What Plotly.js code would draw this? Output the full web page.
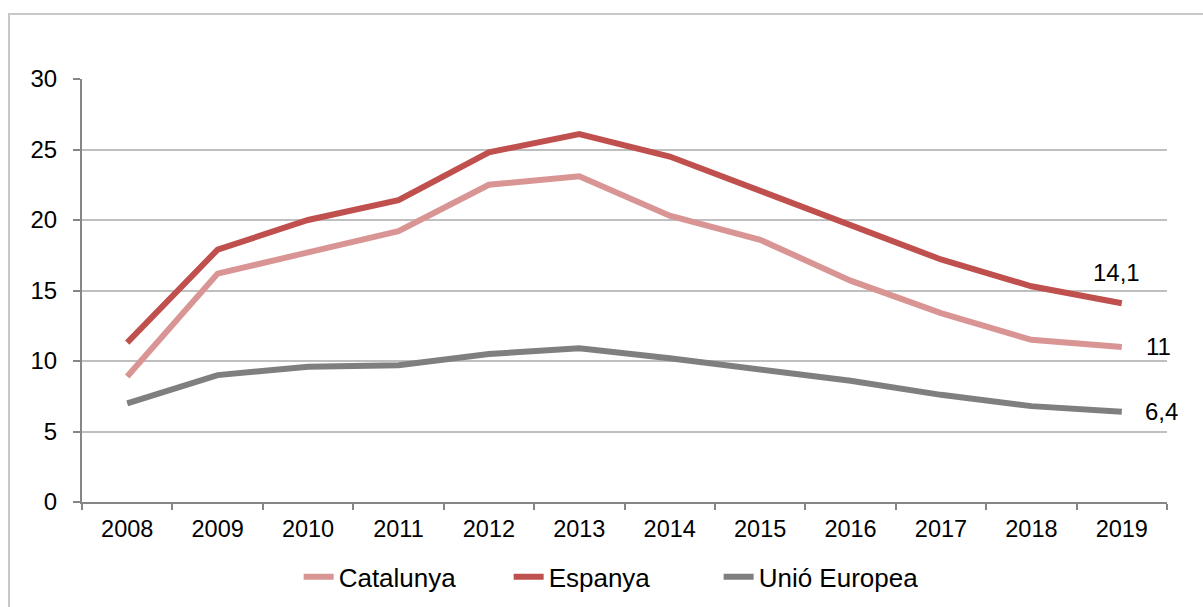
<!DOCTYPE html>
<html>
<head>
<meta charset="utf-8">
<script src="https://cdn.plot.ly/plotly-3.0.1.min.js"></script>
<style>
html,body{margin:0;padding:0;background:#fff;}
#frame{position:absolute;left:8px;top:13px;width:1300px;height:700px;border-top:2px solid #c8c8c8;border-left:2px solid #c8c8c8;}
#chart{position:absolute;left:0;top:0;width:1203px;height:607px;}
</style>
</head>
<body>
<div id="frame"></div>
<div id="chart"></div>
<script>
const years = ['2008','2009','2010','2011','2012','2013','2014','2015','2016','2017','2018','2019'];
const catalunya = [8.9, 16.2, 17.7, 19.2, 22.5, 23.1, 20.3, 18.6, 15.7, 13.4, 11.5, 11.0];
const espanya = [11.3, 17.9, 20.0, 21.4, 24.8, 26.1, 24.5, 22.1, 19.6, 17.2, 15.3, 14.1];
const ue = [7.0, 9.0, 9.6, 9.7, 10.5, 10.9, 10.2, 9.4, 8.6, 7.6, 6.8, 6.4];
const yTicks = [0, 5, 10, 15, 20, 25, 30];

const fmt = v => String(v).replace('.', ',');
const last = a => a[a.length - 1];

const traces = [
  {x: years, y: catalunya, name: 'Catalunya', type: 'scatter', mode: 'lines',
   line: {color: '#d99594', width: 6}},
  {x: years, y: espanya, name: 'Espanya', type: 'scatter', mode: 'lines',
   line: {color: '#c0504d', width: 6}},
  {x: years, y: ue, name: 'Unió Europea', type: 'scatter', mode: 'lines',
   line: {color: '#7f7f7f', width: 6}}
];

const font = {family: 'Liberation Sans, Arial, sans-serif', color: '#000'};
const lastIdx = years.length - 1;
const f = s => Object.assign({}, font, {size: s});

const layout = {
  width: 1203, height: 607,
  margin: {l: 82, r: 36, t: 79, b: 105, autoexpand: false},
  paper_bgcolor: 'rgba(0,0,0,0)', plot_bgcolor: 'rgba(0,0,0,0)',
  font: font,
  showlegend: true,
  legend: {orientation: 'h', x: 0.49, xanchor: 'center', y: -0.177, yanchor: 'middle',
           font: f(26), itemwidth: 30, tracegroupgap: 0,
           entrywidth: 165, entrywidthmode: 'pixels'},
  xaxis: {
    type: 'category', range: [-0.5, 11.5], tickson: 'boundaries',
    showline: true, linecolor: '#868686', linewidth: 2,
    ticks: 'outside', ticklen: 6, tickcolor: '#868686', tickwidth: 2,
    showgrid: false, tickfont: f(23.5), ticklabelstandoff: 5,
    fixedrange: true, automargin: false
  },
  yaxis: {
    range: [0, 30], tickvals: yTicks, ticktext: yTicks.map(String),
    showline: true, linecolor: '#868686', linewidth: 2,
    ticks: 'outside', ticklen: 7, tickcolor: '#868686', tickwidth: 2,
    showgrid: true, gridcolor: '#bfbfbf', gridwidth: 2,
    zeroline: false, tickfont: f(24),
    ticklabelstandoff: 11, fixedrange: true, automargin: false
  },
  annotations: [
    {x: lastIdx, y: last(espanya), xref: 'x', yref: 'y', text: fmt(last(espanya)),
     showarrow: false, xshift: -5, yshift: 31, font: f(24)},
    {x: lastIdx, y: last(catalunya), xref: 'x', yref: 'y', text: fmt(last(catalunya)),
     showarrow: false, xshift: 37, yshift: 0, font: f(24)},
    {x: lastIdx, y: last(ue), xref: 'x', yref: 'y', text: fmt(last(ue)),
     showarrow: false, xshift: 40, yshift: 0, font: f(24)}
  ]
};

Plotly.newPlot('chart', traces, layout, {displayModeBar: false, staticPlot: true});
</script>
</body>
</html>
